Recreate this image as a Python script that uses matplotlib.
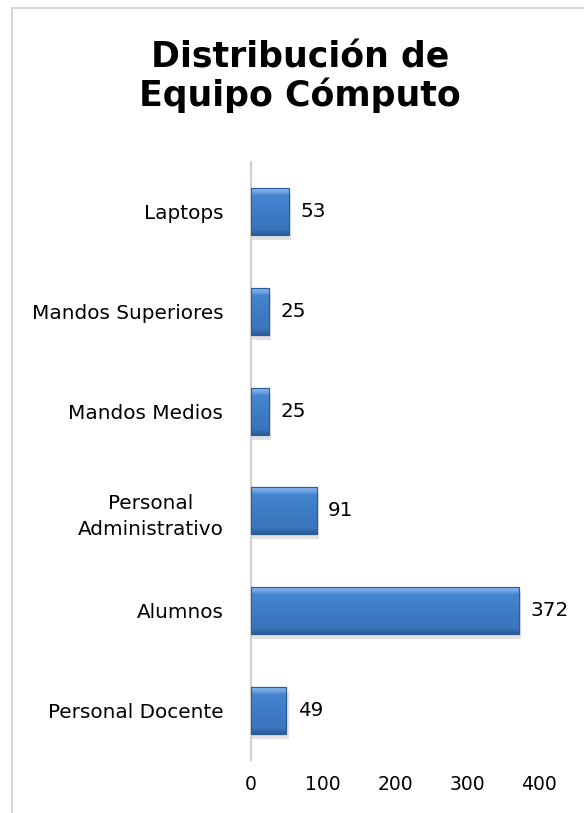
import matplotlib.pyplot as plt
import numpy as np
from matplotlib.patches import Rectangle
from matplotlib.colors import LinearSegmentedColormap

# datos del grafico (de abajo hacia arriba)
categorias = ['Personal Docente', 'Alumnos', 'Personal\nAdministrativo',
              'Mandos Medios', 'Mandos Superiores', 'Laptops']
valores = [49, 372, 91, 25, 25, 53]
ticks_x = [0, 100, 200, 300, 400]

plt.rcParams['font.family'] = ['DejaVu Sans']

fig = plt.figure(figsize=(5.84, 8.13), dpi=100)
# marco gris claro del area del grafico
fig.patches.append(Rectangle((12 / 584, -0.05), 1.0, 1.05 - 8 / 813,
                             transform=fig.transFigure, fill=False,
                             edgecolor='#d9d9d9', linewidth=1.5))

ax = fig.add_axes([0.430, 0.065, 0.493, 0.736])
y = np.arange(len(categorias))
bars = ax.barh(y, valores, height=0.47, color='#3d7ac4', edgecolor='#2c5d9b',
               linewidth=0.8, zorder=3)

# degradado para imitar el bisel de Excel
grad = np.linspace(0, 1, 200).reshape(-1, 1)
cmap = LinearSegmentedColormap.from_list(
    'bisel', [(0.0, '#2a5a96'), (0.12, '#3a74bc'), (0.5, '#3e7cc6'),
              (0.85, '#4585d0'), (0.9, '#6a9fe0'), (1.0, '#86b6ec')])
for b in bars:
    x0, y0 = b.get_x(), b.get_y()
    w, h = b.get_width(), b.get_height()
    # sombra
    ax.add_patch(Rectangle((x0 + 1, y0 - 0.05), w + 2, h, facecolor='#cfcfcf',
                           edgecolor='none', alpha=0.6, zorder=2))
    im = ax.imshow(grad, extent=(x0, x0 + w, y0, y0 + h), origin='lower',
                   cmap=cmap, aspect='auto', zorder=4)
    im.set_clip_path(b)
    ax.add_patch(Rectangle((x0, y0), w, h, fill=False, edgecolor='#2c5d9b',
                           linewidth=0.8, zorder=5))

for yi, v in zip(y, valores):
    ax.text(v + 16, yi, str(v), va='center', ha='left', fontsize=14.4, color='#000000')

ax.set_xlim(0, 400)
ax.set_ylim(-0.5, len(categorias) - 0.5)
ax.set_xticks(ticks_x)
ax.set_yticks(y)
ax.set_yticklabels(categorias, fontsize=14.4, linespacing=1.45)
ax.tick_params(axis='x', length=0, pad=11, labelsize=13.5)
ax.tick_params(axis='y', length=0, pad=20)
for lab in ax.get_yticklabels():
    lab.set_horizontalalignment('right')
    lab.set_multialignment('center')

for s in ['top', 'right', 'bottom']:
    ax.spines[s].set_visible(False)
ax.spines['left'].set_color('#d0d0d0')
ax.spines['left'].set_linewidth(1.5)

fig.text(0.514, 0.906, 'Distribución de\nEquipo Cómputo', ha='center', va='center',
         fontsize=25, fontweight='bold', linespacing=1.1)

fig.savefig('out.png', dpi=100)
